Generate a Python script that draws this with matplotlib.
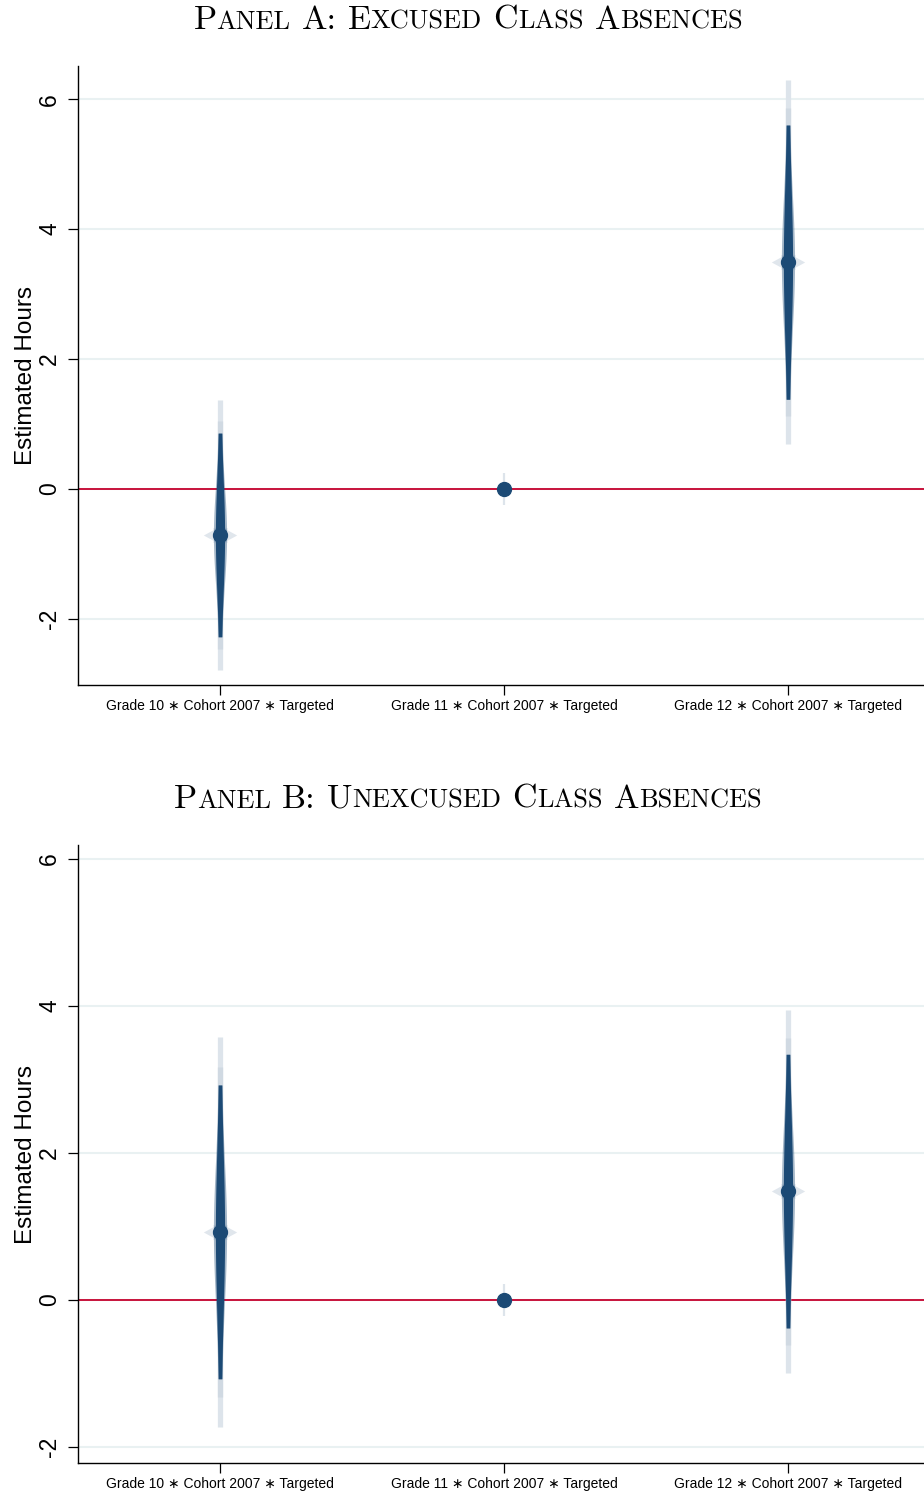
"""
Coefficient plot: excused / unexcused class absences by grade (cohort 2007, targeted).
"""
import numpy as np
import matplotlib
matplotlib.use("Agg")
import matplotlib.pyplot as plt
from matplotlib.offsetbox import TextArea, HPacker, AnnotationBbox

plt.rcParams['axes.unicode_minus'] = False
SANS = ['Liberation Sans', 'DejaVu Sans']

labels = ["Grade 10 \u2217 Cohort 2007 \u2217 Targeted",
          "Grade 11 \u2217 Cohort 2007 \u2217 Targeted",
          "Grade 12 \u2217 Cohort 2007 \u2217 Targeted"]

# point estimates and standard errors
est_a = [-0.71, 0.0, 3.49]
se_a = [0.80, 0.0, 1.077]
est_b = [0.925, 0.0, 1.48]
se_b = [1.02, 0.0, 0.95]

title_a = [("P", "ANEL"), ("A:", ""), ("E", "XCUSED"), ("C", "LASS"), ("A", "BSENCES")]
title_b = [("P", "ANEL"), ("B:", ""), ("U", "NEXCUSED"), ("C", "LASS"), ("A", "BSENCES")]

yticks = [-2, 0, 2, 4, 6]

DARK = '#1c4a75'
LIGHT = '#dde4eb'
MID = '#d0d9e2'
RED = '#c8123c'
GRID = '#e9f1f2'

W, H = 924, 1495
fig = plt.figure(figsize=(W / 100, H / 100), dpi=100)


def small_caps(ax, words, xfrac, yfrac):
    packs = []
    for big, small in words:
        parts = [TextArea(big, textprops=dict(fontsize=24.5, family='cmr10'))]
        if small:
            parts.append(TextArea(small, textprops=dict(fontsize=19, family='cmr10')))
        packs.append(HPacker(children=parts, sep=0, pad=0, align='baseline'))
    box = HPacker(children=packs, sep=8, pad=0, align='baseline')
    ab = AnnotationBbox(box, (xfrac, yfrac), xycoords='figure fraction',
                        box_alignment=(0.5, 0.5), frameon=False,
                        annotation_clip=False)
    ax.add_artist(ab)


def draw_coef(ax, x, est, se, xpx, ypx):
    # xpx / ypx: data units per pixel
    if se == 0:
        ax.plot([x, x], [est - 16 * ypx, est + 16 * ypx], color=LIGHT, lw=1.6,
                zorder=3, solid_capstyle='butt')
        ax.plot(x, est, 'o', ms=10, color=DARK, zorder=6)
        return
    ax.plot([x, x], [est - 2.60 * se, est + 2.60 * se], color=LIGHT, lw=3.8,
            zorder=3, solid_capstyle='butt')
    ax.plot([x, x], [est - 2.20 * se, est + 2.20 * se], color=MID, lw=3.8,
            zorder=3, solid_capstyle='butt')
    t = np.linspace(-1.96, 1.96, 400)
    y = est + t * se
    hw_soft = 1.6 + 5.0 * np.exp(-0.5 * (t / 0.9) ** 2)
    hw = 1.0 + 3.6 * np.exp(-0.5 * (t / 1.1) ** 2)
    ax.plot(x, est, marker=(4, 1, 0), ms=24, color='#d3dce5', mec='none',
            alpha=0.7, zorder=3.5)
    ax.plot(x, est, marker=(4, 1, 45), ms=15, color='#c8d3de', mec='none',
            alpha=0.5, zorder=3.5)
    ax.fill_betweenx(y, x - hw_soft * xpx, x + hw_soft * xpx, color=DARK,
                     alpha=0.4, lw=0, zorder=4)
    ax.fill_betweenx(y, x - hw * xpx, x + hw * xpx, color=DARK, lw=0, zorder=5)
    ax.plot(x, est, 'o', ms=10, color=DARK, zorder=6)


def panel(top_px, bot_px, ylim, est, se, words, title_y):
    left_px, right_px = 78, 924
    ax = fig.add_axes([left_px / W, 1 - bot_px / H, (right_px - left_px) / W,
                       (bot_px - top_px) / H])
    xlim = (0.5, 3.479)
    ax.set_xlim(*xlim)
    ax.set_ylim(*ylim)
    xpx = (xlim[1] - xlim[0]) / (right_px - left_px)
    ypx = (ylim[1] - ylim[0]) / (bot_px - top_px)
    xs = np.arange(1, len(labels) + 1)

    for yt in yticks:
        ax.axhline(yt, color=GRID, lw=1.5, zorder=1)
    ax.axhline(0, color=RED, lw=1.4, zorder=2)
    for x, e, s in zip(xs, est, se):
        draw_coef(ax, x, e, s, xpx, ypx)

    ax.set_yticks(yticks)
    ax.set_yticklabels([str(v) for v in yticks], rotation=90, va='center',
                       fontsize=16.5, family=SANS)
    ax.set_xticks(xs)
    ax.set_xticklabels(labels, fontsize=10, family=SANS)
    ax.tick_params(axis='y', length=7, width=0.9, pad=5)
    ax.tick_params(axis='x', length=7, width=0.9, pad=3)
    for side in ('top', 'right'):
        ax.spines[side].set_visible(False)
    for side in ('left', 'bottom'):
        ax.spines[side].set_linewidth(1.0)
    ax.set_ylabel("Estimated Hours", fontsize=17.5, family=SANS, labelpad=1)
    small_caps(ax, words, 468 / W, 1 - title_y / H)
    return ax


panel(66, 685, (-3.02, 6.51), est_a, se_a, title_a, 20)
panel(845, 1463, (-2.22, 6.19), est_b, se_b, title_b, 799)

fig.savefig("out.png", dpi=100)
